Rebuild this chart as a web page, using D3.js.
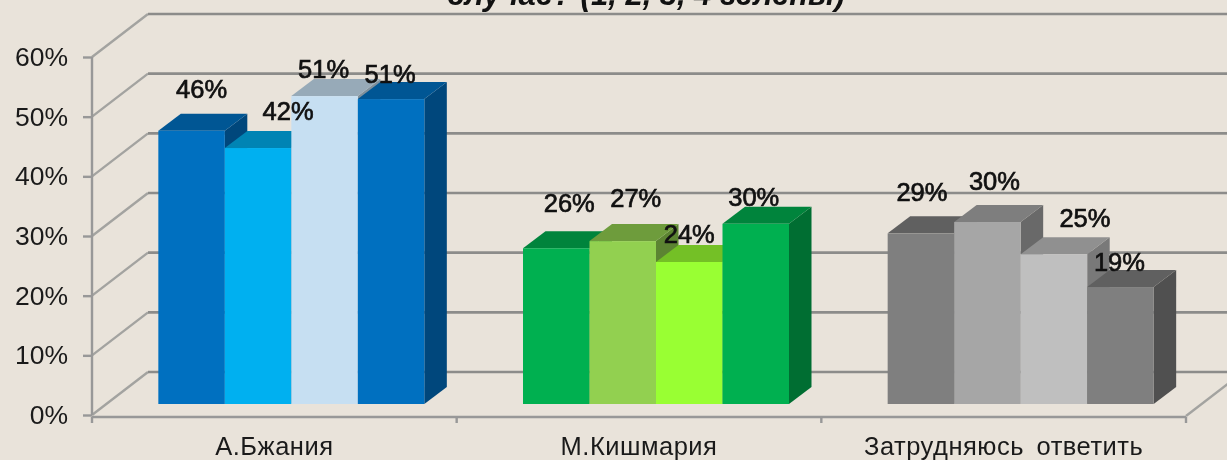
<!DOCTYPE html>
<html>
<head>
<meta charset="utf-8">
<style>
  html, body { margin: 0; padding: 0; background: #e9e3da; overflow: hidden; }
  svg { display: block; filter: blur(0.45px); }
  text { font-family: "Liberation Sans", Arial, sans-serif; fill: #111; }
  .axis path, .axis line { stroke: #989898; stroke-width: 2.4px; }
  .axis text { font-size: 26.5px; fill: #1a1a1a; }
  .xaxis text { font-size: 25.5px; letter-spacing: 0.5px; word-spacing: 5px; }
  .wall { fill: none; stroke: #a3a3a0; stroke-width: 2.4px; }
  .grid { stroke: #8c8c8a; stroke-width: 2.6px; }
  .lab { font-size: 25.5px; font-weight: 400; stroke: #111; stroke-width: 0.7px; text-anchor: middle; }
  .title { font-size: 31px; font-weight: bold; font-style: italic; text-anchor: middle; }
</style>
<script src="https://cdnjs.cloudflare.com/ajax/libs/d3/7.8.5/d3.min.js"></script>
</head>
<body>
<script>
  // values
  var categories = ["А.Бжания", "М.Кишмария", "Затрудняюсь ответить"];
  var series = ["1", "2", "3", "4"];
  var bzhania = [45.8, 42.9, 51.6, 51.1];
  var kishmaria = [26.1, 27.3, 23.8, 30.2];
  var hard = [28.6, 30.5, 25.1, 19.6];
  var labels = [["46%", "42%", "51%", "51%"], ["26%", "27%", "24%", "30%"], ["29%", "30%", "25%", "19%"]];
  var ticks = [0, 10, 20, 30, 40, 50, 60];
  var title = "случае? (1, 2, 3, 4 зелены)";

  var values = [bzhania, kishmaria, hard];

  // front, top, side of each bar
  var colors = [
    [["#0070c0", "#005694", "#00477c"], ["#00b0f0", "#0084b4", "#006f98"], ["#c6dff2", "#97aab8", "#7f909c"], ["#0070c0", "#005694", "#00477c"]],
    [["#00b050", "#00843c", "#006e32"], ["#92d050", "#6e9c3c", "#5c8432"], ["#99ff33", "#74c026", "#60a020"], ["#00b050", "#00843c", "#006e32"]],
    [["#7f7f7f", "#606060", "#505050"], ["#a6a6a6", "#7e7e7e", "#696969"], ["#bfbfbf", "#909090", "#797979"], ["#7f7f7f", "#606060", "#505050"]]
  ];

  // hand placed data labels, shift from the middle of the bar top
  var labelShift = [
    [[10, -33], [30, -28], [-1, -18], [-1, -16]],
    [[13, -36], [13, -34], [0, -19], [-2, -18]],
    [[1, -32], [7, -32], [31, -27], [-1, -16]]
  ];

  var width = 1227, height = 460;
  var axisX = 92, floorY = 415, topY = 57, rightX = 1186;
  var wallDx = 56, wallDy = -43;      // floor depth
  var barBase = 404, depthX = 22.5, depthY = -17;  // depth of bars

  var svg = d3.select("body").append("svg")
    .attr("width", width)
    .attr("height", height);

  var y = d3.scaleLinear().domain([0, 60]).range([floorY, topY]);
  var x0 = d3.scaleBand().domain(categories).range([axisX, rightX]);
  var x1 = d3.scaleBand().domain(series).range([0, 266]);
  var barH = d3.scaleLinear().domain([0, 60]).range([0, y(0) - y(60)]);

  // back wall gridlines with their slanted part
  svg.selectAll(".wall").data(ticks).enter().append("path")
    .attr("class", "wall")
    .attr("d", function(d) {
      return "M" + axisX + "," + y(d) + "L" + (axisX + wallDx) + "," + (y(d) + wallDy);
    });
  svg.selectAll(".grid").data(ticks).enter().append("line")
    .attr("class", "grid")
    .attr("x1", axisX + wallDx).attr("x2", width + 10)
    .attr("y1", function(d) { return y(d) + wallDy; })
    .attr("y2", function(d) { return y(d) + wallDy; });
  svg.append("path").attr("class", "wall")
    .attr("d", "M" + rightX + "," + (floorY + 1) + "L" + (rightX + wallDx) + "," + (floorY + 1 + wallDy));

  var yAxis = d3.axisLeft(y).tickValues(ticks).tickSize(14).tickPadding(-1)
    .tickFormat(function(d) { return d + "%"; });
  svg.append("g").attr("class", "axis")
    .attr("transform", "translate(" + axisX + ",0)")
    .call(yAxis)
    .call(function(g) { g.select(".domain").attr("d", "M0," + topY + "V" + floorY); });
  svg.selectAll(".axis .tick line").attr("x1", 0).attr("x2", -9);
  svg.selectAll(".axis .tick text").attr("x", -24);

  var xAxis = d3.axisBottom(x0).tickSize(0).tickPadding(20);
  var gx = svg.append("g").attr("class", "axis xaxis")
    .attr("transform", "translate(0," + (floorY + 2) + ")")
    .call(xAxis);
  gx.select(".domain").attr("d", "M" + axisX + ",0H" + rightX);
  gx.selectAll(".sep").data(d3.range(categories.length + 1)).enter().append("line")
    .attr("x1", function(d) { return axisX + d * x0.step(); })
    .attr("x2", function(d) { return axisX + d * x0.step(); })
    .attr("y1", 0).attr("y2", 6);

  // bars, one group per category
  var groups = svg.selectAll(".group").data(categories).enter().append("g")
    .attr("class", "group")
    .attr("transform", function(d) {
      return "translate(" + (x0(d) + (x0.bandwidth() - 266) / 2 + 17) + "," + barBase + ")";
    });

  groups.each(function(cat, i) {
    var g = d3.select(this);
    series.forEach(function(s, j) {
      var v = values[i][j], c = colors[i][j];
      var l = x1(s), r = l + x1.bandwidth(), h = barH(v);
      g.append("path").attr("fill", c[2])
        .attr("d", d3.line()([[r, 0], [r + depthX, depthY], [r + depthX, depthY - h], [r, -h]]));
      g.append("path").attr("fill", c[1])
        .attr("d", d3.line()([[l, -h], [l + depthX, depthY - h], [r + depthX, depthY - h], [r, -h]]));
      g.append("rect").attr("fill", c[0])
        .attr("x", l).attr("y", -h)
        .attr("width", x1.bandwidth()).attr("height", h);
    });
  });

  // labels go on top of all the bars
  groups.each(function(cat, i) {
    var g = d3.select(this);
    series.forEach(function(s, j) {
      g.append("text").attr("class", "lab")
        .attr("x", x1(s) + x1.bandwidth() / 2 + labelShift[i][j][0])
        .attr("y", -barH(values[i][j]) + labelShift[i][j][1])
        .text(labels[i][j]);
    });
  });

  svg.append("text").attr("class", "title")
    .attr("x", 646).attr("y", 5)
    .text(title);
</script>
</body>
</html>
